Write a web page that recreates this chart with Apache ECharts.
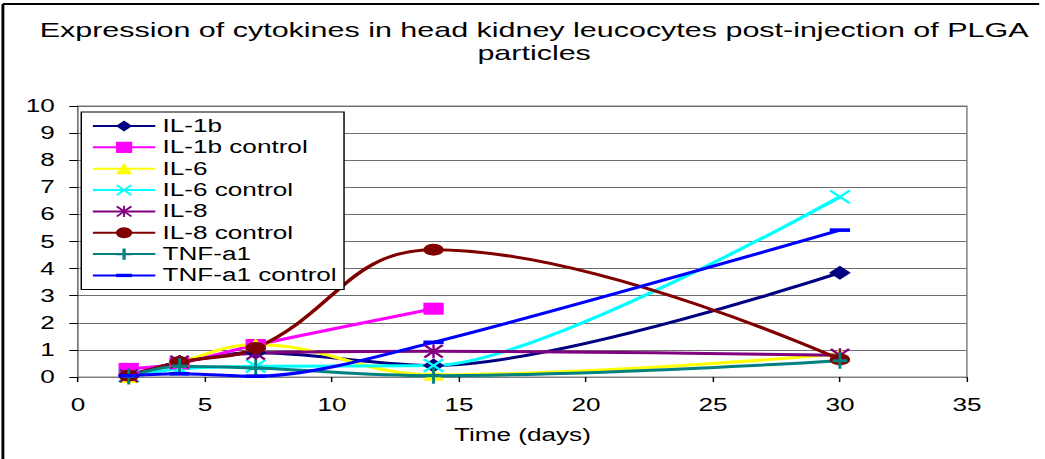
<!DOCTYPE html>
<html>
<head>
<meta charset="utf-8">
<script src="https://cdn.jsdelivr.net/npm/echarts@6/dist/echarts.min.js"></script>
<style>
  html, body { margin: 0; padding: 0; background: #fff; overflow: hidden; }
  /* the reference is stretched sideways, so the chart is drawn narrower and widened */
  #chart { width: 720px; height: 459px; transform: scaleX(1.45139); transform-origin: 0 0; }
</style>
</head>
<body>
<div id="chart"></div>
<script>
const days = [2, 4, 7, 14, 30];
const seriesNames = ['IL-1b', 'IL-1b control', 'IL-6', 'IL-6 control', 'IL-8', 'IL-8 control', 'TNF-a1', 'TNF-a1 control'];
const il1b = [0.05, 0.55, 0.9, 0.42, 3.85];
const il1bControl = [0.3, 0.5, 1.18, 2.52, null];
const il6 = [0.0, 0.55, 1.2, 0.08, 0.85];
const il6Control = [0.05, 0.3, 0.4, 0.42, 6.65];
const il8 = [0.05, 0.55, 0.88, 0.95, 0.8];
const il8Control = [0.05, 0.55, 1.07, 4.7, 0.65];
const tnfa1 = [0.02, 0.4, 0.33, 0.05, 0.6];
const tnfa1Control = [0.05, 0.12, 0.03, 1.28, 5.42];
const xTicks = [0, 5, 10, 15, 20, 25, 30, 35];
const yTicks = [0, 1, 2, 3, 4, 5, 6, 7, 8, 9, 10];

const font = '"Liberation Sans", Arial, sans-serif';

const crossPath = 'path://M0,1L1,0L5,4L9,0L10,1L6,5L10,9L9,10L5,6L1,10L0,9L4,5Z';
const starPath = crossPath + 'M4.4,0L5.6,0L5.6,10L4.4,10Z';
const plusPath = 'path://M4,0L6,0L6,4L10,4L10,6L6,6L6,10L4,10L4,6L0,6L0,4L4,4Z';
// thin dash; the bare move-tos keep the box square so the bar stays thin
const dashPath = 'path://M0,0M0,3.5L10,3.5L10,6.5L0,6.5ZM10,10';

const styles = [
  { color: '#000080', symbol: 'diamond', size: [15, 14], smooth: 0.3 },
  { color: '#ff00ff', symbol: 'rect', size: [14, 12], smooth: 0.3 },
  { color: '#ffff00', symbol: 'triangle', size: [14, 12], smooth: 0.4 },
  { color: '#00ffff', symbol: crossPath, size: [15, 14], smooth: 0.25 },
  { color: '#800080', symbol: starPath, size: [14, 14], smooth: 0.3 },
  { color: '#800000', symbol: 'circle', size: [14, 12], smooth: 0.42 },
  { color: '#008080', symbol: plusPath, size: [10, 16], smooth: 0.4 },
  { color: '#0000ff', symbol: dashPath, size: [14, 12], smooth: 0.3 }
];
const values = [il1b, il1bControl, il6, il6Control, il8, il8Control, tnfa1, tnfa1Control];

const chart = echarts.init(document.getElementById('chart'), null, { renderer: 'svg' });

const option = {
  animation: false,
  backgroundColor: '#fff',
  title: {
    text: 'Expression of cytokines in head kidney leucocytes post-injection of PLGA\nparticles',
    left: 368,
    top: 18,
    padding: 0,
    textAlign: 'center',
    textStyle: { fontFamily: font, fontSize: 21, fontWeight: 'normal', color: '#000', lineHeight: 23 }
  },
  legend: {
    orient: 'vertical',
    left: 56,
    top: 112,
    padding: [5, 5, 5, 7],
    itemWidth: 43,
    itemHeight: 14,
    itemGap: 3.35,
    borderColor: '#000',
    borderWidth: 1,
    backgroundColor: '#fff',
    textStyle: { fontFamily: font, fontSize: 18, color: '#000', lineHeight: 15 },
    data: seriesNames
  },
  grid: {
    left: 53.7,
    right: 53.8,
    top: 106,
    bottom: 82,
    show: true,
    borderColor: '#808080',
    borderWidth: 1,
    backgroundColor: 'transparent'
  },
  xAxis: {
    type: 'value',
    min: xTicks[0],
    max: xTicks[xTicks.length - 1],
    interval: 5,
    name: 'Time (days)',
    nameLocation: 'middle',
    nameGap: 49,
    nameTextStyle: { fontFamily: font, fontSize: 18, color: '#000' },
    axisLine: { show: true, lineStyle: { color: '#808080', width: 1 } },
    axisTick: { show: true, length: 5, lineStyle: { color: '#000' } },
    axisLabel: { fontFamily: font, fontSize: 18, color: '#000', margin: 19 },
    splitLine: { show: false }
  },
  yAxis: {
    type: 'value',
    min: yTicks[0],
    max: yTicks[yTicks.length - 1],
    interval: 1,
    axisLine: { show: true, lineStyle: { color: '#808080', width: 1 } },
    axisTick: { show: true, length: 6, lineStyle: { color: '#000' } },
    axisLabel: { fontFamily: font, fontSize: 18, color: '#000', margin: 16 },
    splitLine: { show: true, lineStyle: { color: '#6e6e6e', width: 1 } }
  },
  graphic: [
    { type: 'line', shape: { x1: 2, y1: 4, x2: 2, y2: 459 }, style: { stroke: '#000', lineWidth: 2 } },
    { type: 'line', shape: { x1: 2, y1: 4, x2: 716, y2: 4 }, style: { stroke: '#000', lineWidth: 2 } }
  ],
  series: seriesNames.map((name, i) => ({
    name,
    type: 'line',
    smooth: styles[i].smooth,
    symbol: styles[i].symbol,
    symbolSize: styles[i].size,
    showAllSymbol: true,
    data: days.map((d, j) => [d, values[i][j]]),
    itemStyle: { color: styles[i].color },
    lineStyle: { color: styles[i].color, width: 3 },
    emphasis: { disabled: true }
  }))
};

chart.setOption(option);
</script>
</body>
</html>
